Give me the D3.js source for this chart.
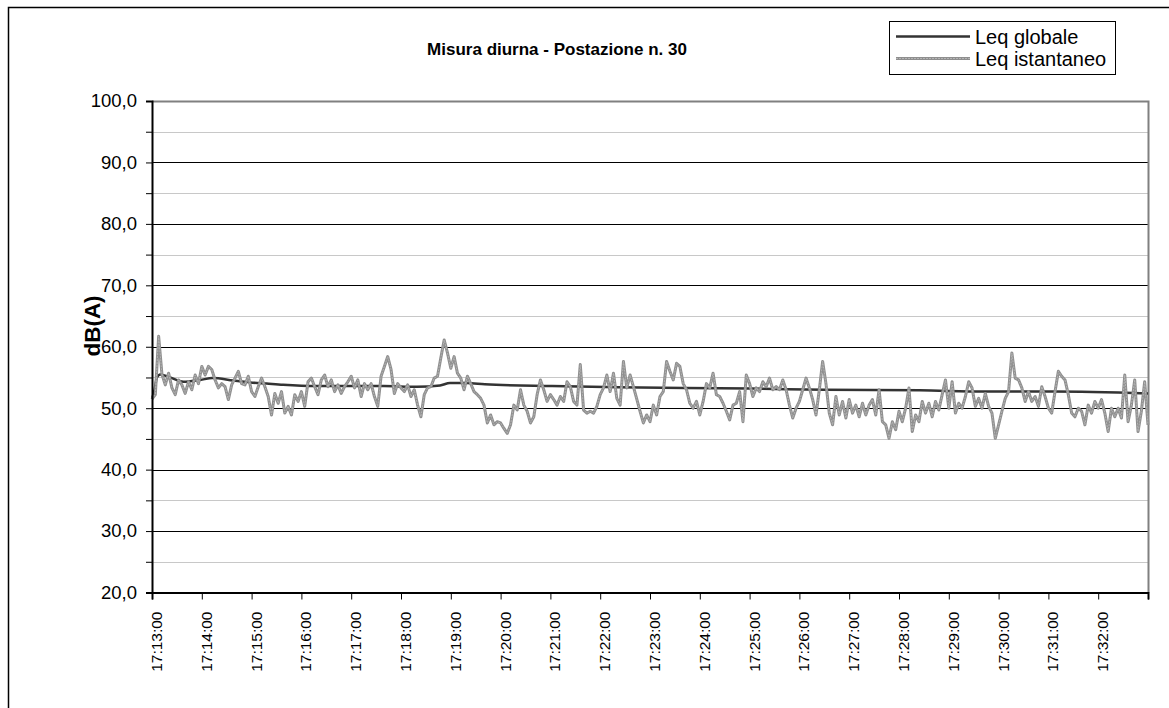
<!DOCTYPE html>
<html>
<head>
<meta charset="utf-8">
<script src="https://cdn.jsdelivr.net/npm/d3@7"></script>
<style>
    body { margin: 0; background: #fff; }
    svg { display: block; font-family: Arial, "Liberation Sans", sans-serif; }
</style>
</head>
<body>
<div id="chart"></div>
<script>
// dati della misura (campioni ogni 4 secondi a partire dalle 17:13:00)
const oraInizio = "17:13:00";
const passoSec = 4;

const leqIstantaneo = [
    51.5,52.2,61.7,55.5,53.8,55.7,53.3,52.2,54.6,53.8,
    52.4,54.3,53.0,55.4,54.0,56.8,55.4,56.8,56.3,54.6,
    53.3,54.0,53.5,51.4,53.8,54.9,56.0,54.0,53.8,55.2,
    52.7,51.9,53.5,54.9,53.5,51.9,48.9,52.4,50.8,52.7,
    49.2,50.3,48.9,52.2,51.1,52.7,50.3,54.3,54.9,53.5,
    52.2,54.6,55.4,53.5,54.6,52.7,53.8,52.4,53.5,54.3,
    55.2,53.3,54.6,51.9,54.0,53.0,54.0,51.9,50.3,55.2,
    56.8,58.4,56.3,52.4,54.0,53.3,52.7,53.8,51.9,53.0,
    50.5,48.6,52.2,53.3,53.5,54.9,55.2,58.2,61.1,59.0,
    56.5,58.4,55.7,54.9,53.0,55.2,54.0,52.7,52.2,51.6,
    50.5,47.6,
    48.9,47.3,47.8,47.6,46.7,45.9,47.3,50.5,
    49.7,53.0,50.5,49.5,47.6,48.6,52.2,54.6,53.0,51.1,
    52.2,51.4,50.5,51.9,51.1,54.3,53.5,51.1,50.5,57.1,
    49.7,49.2,49.5,49.2,50.3,52.2,53.3,55.4,52.7,55.7,
    51.6,50.5,57.6,53.3,55.4,53.5,51.5,49.5,47.6,48.9,
    47.8,50.5,48.9,51.9,52.7,57.6,56.0,54.6,57.3,56.8,
    54.0,53.0,50.8,50.0,51.1,48.9,51.1,54.0,53.3,55.7,
    52.2,51.9,50.8,49.5,48.1,50.5,50.8,52.7,47.8,55.4,
    54.0,51.9,53.3,52.7,54.3,53.5,54.9,53.0,53.5,53.0,
    54.6,53.0,50.5,48.4,50.0,51.1,53.0,54.9,53.3,51.4,
    48.9,53.0,57.6,
    54.0,49.2,47.3,51.9,48.9,51.1,48.4,
    51.4,49.2,50.5,48.6,50.8,48.9,50.5,51.4,48.9,53.0,
    47.8,47.3,45.1,47.8,46.5,49.5,47.8,50.0,53.3,46.2,
    48.9,47.8,51.1,49.2,50.8,48.6,51.1,49.7,52.2,54.6,
    50.0,54.3,49.2,50.8,50.0,51.9,54.3,53.3,50.3,51.6,
    50.0,52.4,50.3,49.2,45.1,47.3,49.5,51.6,52.7,59.0,
    54.9,54.6,53.3,51.1,52.7,51.1,51.9,50.3,53.5,51.9,
    50.0,49.2,52.7,56.0,55.2,54.6,52.2,49.2,48.6,50.0,
    49.5,47.3,50.5,49.2,51.1,50.0,51.4,49.2,46.2,50.0,
    48.6,50.0,48.4,55.4,47.8,50.5,54.6,46.2,49.5,54.3,
    47.3
];

// Leq globale (secondi dall'inizio, valore)
const globaleSec = [0, 3, 6, 10, 20, 38, 58, 73, 98, 118, 138, 158, 198, 239, 279, 319, 347, 359, 379, 401, 482, 562, 642, 722, 811, 925, 1005, 1086, 1200];
const globaleVal = [51.5, 53.0, 55.0, 55.5, 55.1, 54.3, 54.6, 54.9, 54.5, 54.2, 54.0, 53.8, 53.6, 53.6, 53.6, 53.5, 53.7, 54.1, 54.1, 53.9, 53.6, 53.4, 53.3, 53.2, 53.0, 52.9, 52.7, 52.7, 52.4];

// assi
const yMajor = [20, 30, 40, 50, 60, 70, 80, 90, 100];
const yMinor = [25, 35, 45, 55, 65, 75, 85, 95];
const xTickLabels = ["17:13:00", "17:14:00", "17:15:00", "17:16:00", "17:17:00", "17:18:00", "17:19:00",
    "17:20:00", "17:21:00", "17:22:00", "17:23:00", "17:24:00", "17:25:00", "17:26:00", "17:27:00",
    "17:28:00", "17:29:00", "17:30:00", "17:31:00", "17:32:00", ""];

const titolo = "Misura diurna - Postazione n. 30";
const nomiSerie = ["Leq globale", "Leq istantaneo"];

const width = 1169, height = 708;
const margin = { left: 152, right: 21, top: 101, bottom: 115.5 };

const svg = d3.select("#chart")
    .append("svg")
    .attr("width", width)
    .attr("height", height);

// cornice esterna
svg.append("rect")
    .attr("x", 8.5).attr("y", 7.5)
    .attr("width", 1300).attr("height", 800)
    .attr("fill", "none")
    .attr("stroke", "#000")
    .attr("stroke-width", 1.5);

const x = d3.scaleLinear()
    .domain([0, 1200])
    .range([margin.left, width - margin.right]);

const y = d3.scaleLinear()
    .domain([20, 100])
    .range([height - margin.bottom, margin.top]);

// griglia secondaria
svg.append("g")
    .selectAll("line")
    .data(yMinor)
    .join("line")
    .attr("x1", x(0)).attr("x2", x(1200))
    .attr("y1", d => Math.round(y(d)) + 0.5)
    .attr("y2", d => Math.round(y(d)) + 0.5)
    .attr("stroke", "#c8c8c8");

// griglia principale
svg.append("g")
    .selectAll("line")
    .data(yMajor.filter(d => d > 20 && d < 100))
    .join("line")
    .attr("x1", x(0)).attr("x2", x(1200))
    .attr("y1", d => Math.round(y(d)) + 0.5)
    .attr("y2", d => Math.round(y(d)) + 0.5)
    .attr("stroke", "#000");

// bordo area del grafico (alto e destra)
svg.append("path")
    .attr("d", `M${x(0)},${Math.round(y(100)) + 0.5}H${Math.round(x(1200)) + 0.5}V${y(20)}`)
    .attr("fill", "none")
    .attr("stroke", "#808080")
    .attr("stroke-width", 2);

// linea Leq globale
const lineaGlobale = d3.line()
    .x((d, i) => x(globaleSec[i]))
    .y(d => y(d))
    .curve(d3.curveMonotoneX);

svg.append("path")
    .datum(globaleVal)
    .attr("d", lineaGlobale)
    .attr("fill", "none")
    .attr("stroke", "#333")
    .attr("stroke-width", 2.5);

// linea Leq istantaneo (tratto grigio "a trama")
const lineaIst = d3.line()
    .x((d, i) => x(i * passoSec))
    .y(d => y(d));

svg.append("path")
    .datum(leqIstantaneo)
    .attr("d", lineaIst)
    .attr("fill", "none")
    .attr("stroke", "#8f8f8f")
    .attr("stroke-width", 3)
    .attr("stroke-linejoin", "round");

svg.append("path")
    .datum(leqIstantaneo)
    .attr("d", lineaIst)
    .attr("fill", "none")
    .attr("stroke", "#b4b4b4")
    .attr("stroke-width", 1)
    .attr("stroke-dasharray", "2,1")
    .attr("stroke-linejoin", "round");

// asse y
const yAxis = d3.axisLeft(y)
    .tickValues(yMajor.concat(yMinor))
    .tickSize(6)
    .tickFormat(d => yMajor.includes(d) ? d3.format(".1f")(d).replace(".", ",") : "");

const gy = svg.append("g")
    .attr("transform", `translate(${x(0)},0)`)
    .call(yAxis);
gy.select(".domain").attr("stroke", "#000").attr("stroke-width", 2);
gy.selectAll(".tick line").attr("stroke", "#000");
gy.selectAll(".tick text")
    .attr("x", -15)
    .attr("fill", "#000")
    .style("font-size", "18.5px");

// asse x
const xAxis = d3.axisBottom(x)
    .tickValues(d3.range(0, 1201, 60))
    .tickSize(7)
    .tickFormat((d, i) => xTickLabels[i]);

const gx = svg.append("g")
    .attr("transform", `translate(0,${y(20)})`)
    .call(xAxis);
gx.select(".domain").attr("stroke", "#000").attr("stroke-width", 2);
gx.selectAll(".tick line").attr("stroke", "#000");
gx.selectAll(".tick text")
    .attr("transform", "translate(4,19) rotate(-90)")
    .attr("x", 0).attr("y", 0).attr("dy", null)
    .attr("text-anchor", "end")
    .attr("dominant-baseline", "central")
    .attr("fill", "#000")
    .style("font-size", "15.5px");

// titolo asse y
svg.append("text")
    .attr("transform", "translate(92,326) rotate(-90)")
    .attr("text-anchor", "middle")
    .attr("dominant-baseline", "central")
    .style("font-size", "22.5px")
    .style("font-weight", "bold")
    .text("dB(A)");

// titolo
svg.append("text")
    .attr("x", 557)
    .attr("y", 55)
    .attr("text-anchor", "middle")
    .style("font-size", "17px")
    .style("font-weight", "bold")
    .text(titolo);

// legenda
const legenda = svg.append("g");
legenda.append("rect")
    .attr("x", 889.5).attr("y", 21.5)
    .attr("width", 226).attr("height", 53)
    .attr("fill", "#fff")
    .attr("stroke", "#000");

const righe = legenda.selectAll("g.voce")
    .data(nomiSerie)
    .join("g")
    .attr("class", "voce")
    .attr("transform", (d, i) => `translate(0,${36.5 + i * 22})`);

righe.append("line")
    .attr("x1", 896).attr("x2", 970)
    .attr("stroke", (d, i) => i === 0 ? "#333" : "#8f8f8f")
    .attr("stroke-width", (d, i) => i === 0 ? 2.5 : 3);
righe.filter((d, i) => i === 1)
    .append("line")
    .attr("x1", 896).attr("x2", 970)
    .attr("stroke", "#b4b4b4")
    .attr("stroke-dasharray", "2,1");

righe.append("text")
    .attr("x", 975)
    .attr("dominant-baseline", "central")
    .style("font-size", "20px")
    .text(d => d);
</script>
</body>
</html>
